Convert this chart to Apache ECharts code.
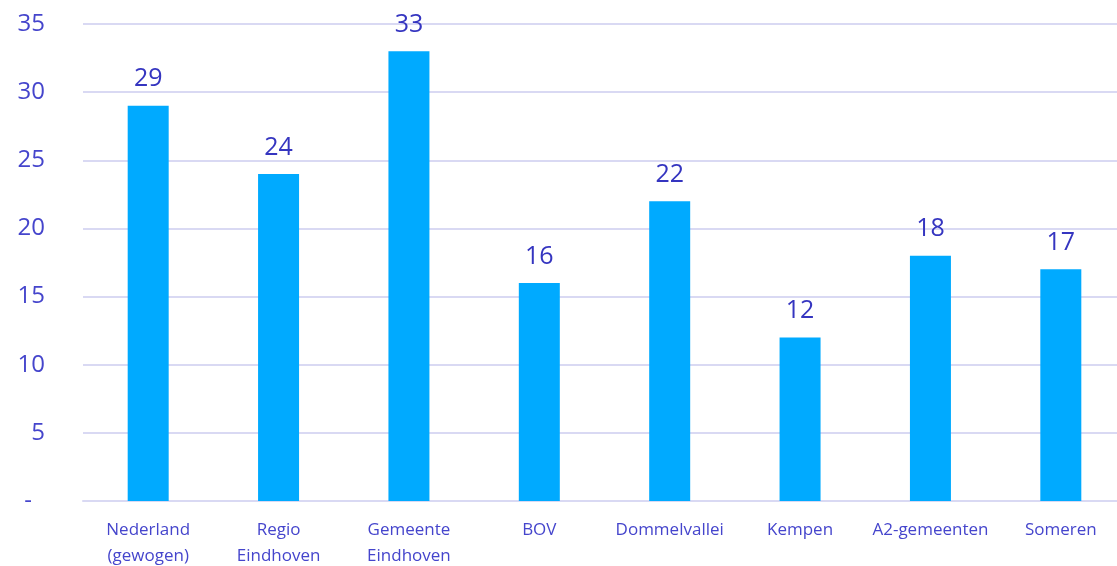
<!DOCTYPE html>
<html>
<head>
<meta charset="utf-8">
<script src="https://cdn.jsdelivr.net/npm/echarts@6/dist/echarts.min.js"></script>
<style>
  html, body { margin: 0; padding: 0; background: #fff; }
  #main { width: 1117px; height: 566px; }
</style>
</head>
<body>
<div id="main"></div>
<script>
// gegevens uit de grafiek
const categories = ['Nederland\n(gewogen)', 'Regio\nEindhoven', 'Gemeente\nEindhoven', 'BOV', 'Dommelvallei', 'Kempen', 'A2-gemeenten', 'Someren'];
const values = [29, 24, 33, 16, 22, 12, 18, 17];
const yTicks = [0, 5, 10, 15, 20, 25, 30, 35];

const chart = echarts.init(document.getElementById('main'));
chart.setOption({
  animation: false,
  backgroundColor: '#fff',
  grid: { left: 83, right: -9, top: 24, bottom: 65, outerBoundsMode: 'none' },
  xAxis: {
    type: 'category',
    data: categories,
    axisLine: { lineStyle: { color: '#d9d9f3', width: 2 } },
    axisTick: { show: false },
    axisLabel: {
      color: '#4545cc',
      fontFamily: 'Open Sans',
      fontSize: 17,
      lineHeight: 26,
      margin: 16,
      interval: 0
    }
  },
  yAxis: {
    type: 'value',
    min: yTicks[0],
    max: yTicks[yTicks.length - 1],
    interval: 5,
    axisLine: { show: false },
    axisTick: { show: false },
    splitLine: { lineStyle: { color: '#d9d9f3', width: 2 } },
    axisLabel: {
      color: '#4545cc',
      fontFamily: 'Open Sans',
      fontSize: 24,
      margin: 38,
      // nul wordt als streepje getoond (boekhoudnotatie)
      formatter: v => (v === 0 ? '{dash|-}' : String(v)),
      rich: { dash: { padding: [0, 13, 0, 0], fontSize: 24, color: '#4545cc', fontFamily: 'Open Sans' } }
    }
  },
  series: [{
    type: 'bar',
    data: values,
    barWidth: 41,
    itemStyle: { color: '#00aaff' },
    label: {
      show: true,
      position: 'top',
      distance: 14,
      color: '#3535c0',
      fontFamily: 'Open Sans',
      fontSize: 25
    }
  }]
});
</script>
</body>
</html>
